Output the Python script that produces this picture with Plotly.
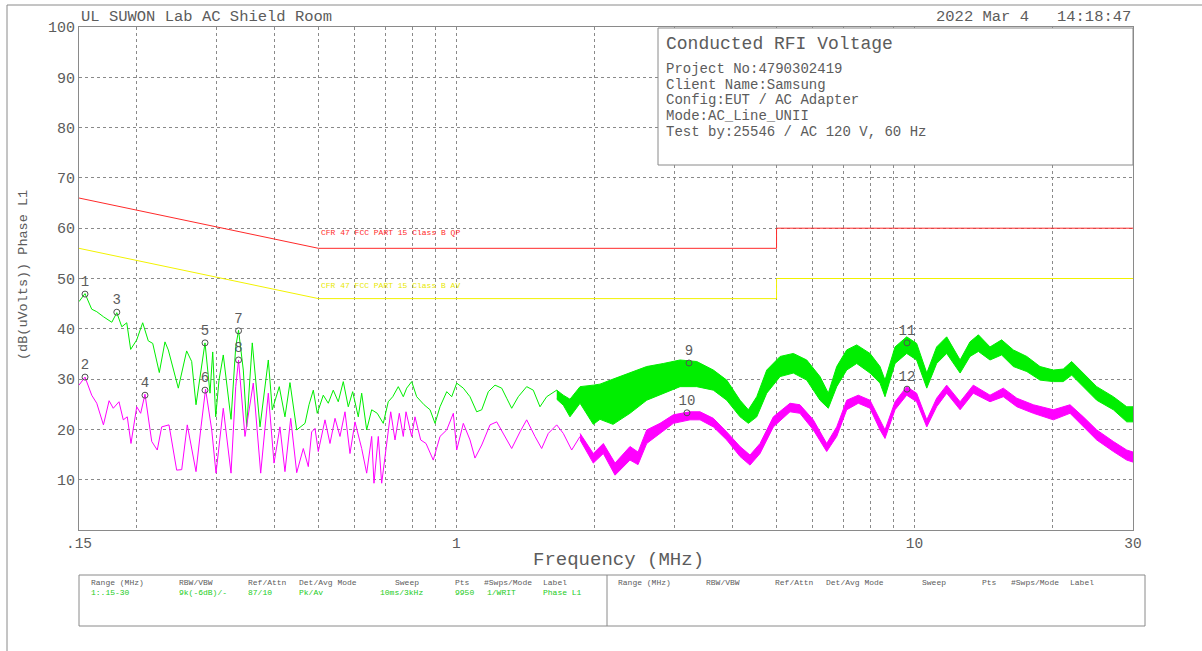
import numpy as np
import plotly.graph_objects as go

# ---------------- measurement data ----------------
# Peak detector (Pk) trace, low-frequency part drawn as a single line
pk_line_f = [0.150, 0.1546, 0.1599, 0.1640, 0.1696, 0.1769, 0.1814, 0.1860, 0.1907, 0.1945,
             0.2005, 0.2066, 0.2125, 0.2173, 0.2246, 0.2311, 0.2350, 0.2471, 0.2577, 0.2643,
             0.2701, 0.2770, 0.2826, 0.2898, 0.2938, 0.2982, 0.3032, 0.3098, 0.3157, 0.3221,
             0.3298, 0.3345, 0.3426, 0.3485, 0.3584, 0.3651, 0.3726, 0.3885, 0.3963, 0.4105,
             0.4224, 0.4332, 0.4481, 0.4672, 0.4767, 0.4871, 0.4969, 0.5121, 0.5252, 0.5385,
             0.5522, 0.5663, 0.5807, 0.5937, 0.6107, 0.6212, 0.6370, 0.6532, 0.6718, 0.6924,
             0.7100, 0.7261, 0.7467, 0.7657, 0.7789, 0.7987, 0.8190, 0.8500, 0.8760, 0.8982,
             0.9209, 0.9526, 0.9768, 1.0016, 1.0354, 1.0708, 1.1074, 1.1358, 1.1741, 1.2142,
             1.2557, 1.2876, 1.3205, 1.3650, 1.4238, 1.4718, 1.5221, 1.5745, 1.6558, 1.7116]
pk_line_db = [45.4, 47.0, 43.9, 43.4, 42.4, 41.3, 43.2, 40.4, 41.2, 35.9,
              37.8, 41.2, 37.6, 37.1, 31.3, 37.4, 35.8, 28.2, 35.6, 33.5,
              24.9, 32.1, 37.2, 27.2, 35.4, 22.5, 29.8, 34.8, 28.8, 22.0,
              36.4, 39.7, 31.8, 20.5, 37.2, 28.8, 20.5, 33.8, 23.9, 28.5,
              22.5, 29.3, 19.9, 21.2, 24.9, 27.8, 23.2, 26.8, 25.2, 27.8,
              25.5, 29.5, 24.5, 27.5, 22.5, 27.2, 19.9, 23.9, 23.2, 21.2,
              25.5, 26.5, 28.5, 26.5, 28.2, 29.5, 26.5, 24.9, 23.9, 21.2,
              24.5, 27.5, 26.5, 29.2, 28.2, 26.5, 23.5, 23.9, 27.5, 28.8,
              28.2, 26.2, 24.2, 26.5, 28.5, 27.8, 24.5, 26.5, 27.8, 25.8]

# Peak trace above ~1.6 MHz: noisy band, upper / lower envelope
pk_band_f = [1.656, 1.712, 1.77, 1.862, 1.99, 2.058, 2.198, 2.393, 2.603, 2.829,
             3.078, 3.347, 3.639, 3.892, 4.162, 4.339, 4.526, 4.759, 5.089, 5.440,
             5.818, 6.220, 6.485, 6.766, 7.114, 7.480, 7.998, 8.410, 8.624, 9.070,
             9.618, 10.11, 10.64, 11.18, 11.76, 12.58, 13.22, 13.79, 14.62, 15.50,
             16.44, 17.59, 18.80, 20.10, 21.13, 22.04, 23.37, 25.00, 27.18, 29.07, 30.0]
pk_band_hi = [27.8, 26.8, 26.0, 28.5, 28.8, 29.0, 30.0, 31.2, 32.5, 33.1,
              33.8, 33.5, 31.8, 29.8, 25.8, 23.9, 26.5, 31.8, 34.5, 35.1,
              33.8, 30.5, 27.2, 32.5, 35.8, 36.8, 35.1, 32.5, 29.8, 36.4,
              38.4, 37.1, 31.2, 36.4, 38.4, 33.8, 37.4, 38.8, 36.4, 37.8,
              35.8, 34.5, 32.5, 31.8, 32.0, 33.5, 31.2, 28.5, 26.5, 24.5, 24.5]
pk_band_lo = [26.0, 24.8, 22.5, 25.2, 21.0, 22.0, 21.0, 23.2, 25.8, 27.2,
              28.5, 28.5, 27.8, 25.8, 22.5, 21.2, 22.5, 27.2, 30.5, 31.2,
              29.8, 25.8, 24.2, 28.5, 31.8, 33.1, 31.2, 29.2, 26.5, 33.1,
              35.1, 33.8, 28.2, 33.1, 35.1, 31.2, 34.5, 35.5, 33.8, 34.8,
              32.5, 31.5, 29.8, 29.5, 29.5, 30.8, 28.5, 25.8, 23.9, 21.5, 21.5]

# Average detector (Av) trace, low-frequency part
av_line_f = [0.150, 0.1546, 0.1599, 0.1640, 0.1696, 0.1745, 0.1782, 0.1834, 0.1874, 0.1912,
             0.1948, 0.2005, 0.2045, 0.2090, 0.2162, 0.2223, 0.2273, 0.2358, 0.2451, 0.2514,
             0.2585, 0.2701, 0.2770, 0.2834, 0.2923, 0.2987, 0.3098, 0.3221, 0.3298, 0.3345,
             0.3455, 0.3602, 0.3739, 0.3885, 0.3998, 0.4119, 0.4224, 0.4348, 0.4481, 0.4632,
             0.4750, 0.4831, 0.4913, 0.4994, 0.5166, 0.5297, 0.5433, 0.5570, 0.5712, 0.5857,
             0.6007, 0.6212, 0.6370, 0.6532, 0.6608, 0.6753, 0.6869, 0.7066, 0.7188, 0.7345,
             0.7505, 0.7657, 0.7762, 0.7987, 0.8120, 0.8358, 0.8584, 0.8903, 0.9209, 0.9526,
             0.9847, 1.0016, 1.0354, 1.0708, 1.0979, 1.1358, 1.1842, 1.2246, 1.2658, 1.3205,
             1.3767, 1.4238, 1.4844, 1.5352, 1.5873, 1.6558, 1.7116, 1.7852, 1.862]
av_line_db = [28.8, 30.4, 26.8, 25.2, 20.9, 25.7, 24.2, 25.5, 21.9, 22.5,
              17.2, 24.5, 23.2, 27.0, 17.6, 15.9, 20.5, 20.9, 11.9, 12.0,
              20.9, 11.6, 20.5, 28.0, 19.9, 11.3, 24.2, 11.3, 28.5, 33.8,
              18.6, 29.2, 11.3, 27.2, 13.3, 20.5, 11.6, 22.2, 11.4, 16.2,
              12.6, 19.5, 20.2, 15.6, 21.9, 17.2, 22.2, 18.6, 23.5, 15.2,
              21.5, 16.2, 11.3, 18.6, 9.3, 18.6, 9.3, 18.6, 23.5, 17.9,
              23.2, 18.6, 23.5, 18.6, 22.5, 17.9, 17.2, 13.9, 18.6, 19.9,
              23.2, 15.9, 21.2, 17.9, 14.3, 16.9, 20.9, 21.5, 19.2, 16.2,
              19.5, 21.9, 18.6, 16.2, 19.2, 20.9, 19.2, 15.9, 18.6]

# Average trace above ~1.86 MHz: upper / lower envelope
av_band_f = [1.862, 1.990, 2.093, 2.220, 2.393, 2.492, 2.603, 2.783, 2.976, 3.236,
             3.403, 3.639, 3.892, 4.162, 4.375, 4.601, 4.920, 5.350, 5.623, 6.014,
             6.433, 6.766, 7.114, 7.541, 7.998, 8.410, 8.624, 9.070, 9.618, 10.11,
             10.64, 11.18, 11.76, 12.58, 13.44, 14.62, 15.63, 16.73, 18.18, 20.10,
             21.86, 23.37, 25.00, 27.18, 29.07, 30.0]
av_band_hi = [19.2, 15.2, 17.2, 13.3, 16.6, 15.5, 19.9, 21.2, 22.9, 23.5,
              23.5, 22.2, 19.5, 16.6, 14.9, 17.2, 22.5, 25.2, 24.9, 21.9,
              17.2, 20.5, 25.8, 26.8, 25.8, 21.9, 19.9, 25.5, 28.5, 27.2,
              21.9, 26.2, 28.8, 25.5, 28.8, 26.8, 28.2, 26.2, 24.9, 23.9,
              24.9, 22.5, 19.9, 17.6, 15.9, 15.5]
av_band_lo = [17.9, 13.3, 15.2, 10.9, 13.9, 13.0, 17.2, 19.2, 21.2, 21.9,
              21.9, 20.5, 17.9, 14.6, 12.9, 15.2, 20.5, 23.5, 23.2, 19.9,
              15.6, 18.6, 23.9, 25.2, 24.2, 19.9, 18.2, 23.9, 26.8, 25.5,
              20.5, 24.5, 27.2, 23.9, 27.2, 25.5, 26.5, 24.5, 23.2, 21.9,
              23.2, 20.5, 17.9, 15.6, 13.9, 13.5]

# Limit lines (CFR 47 FCC Part 15 Class B)
qp_freq = [0.15, 0.5, 5.0, 5.0, 30.0]
qp_level = [66.0, 56.0, 56.0, 60.0, 60.0]
av_freq = [0.15, 0.5, 5.0, 5.0, 30.0]
av_level = [56.0, 46.0, 46.0, 50.0, 50.0]
qp_name = "CFR 47 FCC PART 15 Class B QP"
av_name = "CFR 47 FCC PART 15 Class B AV"

# Markers
mk_freq = [0.1546, 0.1546, 0.1814, 0.2090, 0.2826, 0.2826, 0.3345, 0.3345, 3.220, 3.187, 9.634, 9.634]
mk_level = [46.9, 30.4, 43.3, 26.8, 37.2, 27.8, 39.6, 33.8, 33.2, 23.3, 37.2, 28.0]
mk_label = [str(i) for i in range(1, 13)]

# Axis ticks
x_tickvals = [0.15, 0.2, 0.3, 0.4, 0.5, 0.6, 0.7, 0.8, 0.9, 1, 2, 3, 4, 5, 6, 7, 8, 9, 10, 20, 30]
x_ticklabels = {0.15: ".15", 1: "1", 10: "10", 30: "30"}
y_tickvals = [10, 20, 30, 40, 50, 60, 70, 80, 90, 100]

# Header / info texts
title_left = "UL SUWON Lab AC Shield Room"
title_right = "2022 Mar 4\u00a0\u00a0\u00a014:18:47"
info_title = "Conducted RFI Voltage"
info_lines = ["Project No:4790302419", "Client Name:Samsung", "Config:EUT / AC Adapter",
              "Mode:AC_Line_UNII", "Test by:25546 / AC 120 V, 60 Hz"]
x_title = "Frequency (MHz)"
y_title = "(dB(uVolts)) Phase L1"

table_headers = ["Range (MHz)", "RBW/VBW", "Ref/Attn", "Det/Avg Mode", "Sweep", "Pts", "#Swps/Mode", "Label"]
table_values = ["1:.15-30", "9k(-6dB)/-", "87/10", "Pk/Av", "10ms/3kHz", "9950", "1/WRIT", "Phase L1"]

# ---------------- layout geometry (pixels) ----------------
W, H = 1202, 651
PL, PR, PT, PB = 79, 1133, 27, 530


def px(x):
    return (x - PL) / (PR - PL)


def py(y):
    return (PB - y) / (PB - PT)


FONT = "Liberation Mono"
TXT = "#5c5c5c"
FRAME = "#8a8a8a"
GREEN = "#00ee00"
MAGENTA = "#ff00ff"

fig = go.Figure()

fig.add_trace(go.Scatter(x=qp_freq, y=qp_level, mode="lines",
                         line=dict(color="#ff2a2a", width=1), hoverinfo="skip"))
fig.add_trace(go.Scatter(x=av_freq, y=av_level, mode="lines",
                         line=dict(color="#f2f200", width=1), hoverinfo="skip"))

# peak trace
fig.add_trace(go.Scatter(x=pk_line_f, y=pk_line_db, mode="lines",
                         line=dict(color=GREEN, width=1)))
fig.add_trace(go.Scatter(x=pk_band_f + pk_band_f[::-1], y=pk_band_hi + pk_band_lo[::-1],
                         mode="lines", fill="toself", fillcolor=GREEN,
                         line=dict(color=GREEN, width=1)))

# average trace
fig.add_trace(go.Scatter(x=av_line_f, y=av_line_db, mode="lines",
                         line=dict(color=MAGENTA, width=1)))
fig.add_trace(go.Scatter(x=av_band_f + av_band_f[::-1], y=av_band_hi + av_band_lo[::-1],
                         mode="lines", fill="toself", fillcolor=MAGENTA,
                         line=dict(color=MAGENTA, width=1)))

# markers
fig.add_trace(go.Scatter(x=mk_freq, y=mk_level, mode="markers+text", text=mk_label,
                         textposition="top center",
                         textfont=dict(family=FONT, size=14, color=TXT),
                         marker=dict(symbol="circle-open", size=6, color="#505050",
                                     line=dict(width=1, color="#505050"))))

ann = []


def add_text(text, x, y, size, color=TXT, xanchor="left", yanchor="middle", angle=0):
    ann.append(dict(text=text, x=px(x), y=py(y), xref="paper", yref="paper",
                    xanchor=xanchor, yanchor=yanchor, showarrow=False, textangle=angle,
                    font=dict(family=FONT, size=size, color=color)))


add_text(title_left, 79, 17, 15.5)
add_text(title_right, 1133, 17, 15.5, xanchor="right")
add_text(info_title, 664, 44, 18)
for i, line in enumerate(info_lines):
    add_text(line, 664, 69 + i * 15.7, 14)
add_text(qp_name, 319, 232, 8, color="#ff2a2a")
add_text(av_name, 319, 285, 8, color="#e8e800")
add_text(x_title, 618, 560, 19, xanchor="center")
add_text(y_title, 23, 275, 13.5, xanchor="center", angle=-90)

left_hdr_x = [89, 177, 246, 297, 393, 453, 482, 541]
left_val_x = [89, 177, 246, 297, 378, 453, 485, 541]
for hx, vx, h, v in zip(left_hdr_x, left_val_x, table_headers, table_values):
    add_text(h, hx, 582.5, 8)
    add_text(v, vx, 592.5, 8, color="#22cc22")
    add_text(h, hx + 526.5, 582.5, 8)

fig.update_layout(
    width=W, height=H, autosize=False,
    margin=dict(l=PL, r=W - PR, t=PT, b=H - PB, pad=0),
    paper_bgcolor="white", plot_bgcolor="white",
    showlegend=False,
    annotations=ann,
    xaxis=dict(type="log", range=[np.log10(0.15), np.log10(30)],
               tickvals=x_tickvals,
               ticktext=[x_ticklabels.get(v, "") for v in x_tickvals],
               showgrid=True, gridcolor=FRAME, griddash="3px,3px", gridwidth=1,
               showline=True, mirror=True, linecolor=FRAME, linewidth=1,
               ticks="", zeroline=False,
               tickfont=dict(family=FONT, size=14.5, color=TXT)),
    yaxis=dict(range=[0, 100], tickvals=y_tickvals,
               ticktext=[str(v) for v in y_tickvals],
               showgrid=True, gridcolor=FRAME, griddash="3px,3px", gridwidth=1,
               showline=True, mirror=True, linecolor=FRAME, linewidth=1,
               ticks="", zeroline=False,
               tickfont=dict(family=FONT, size=15, color=TXT)),
    shapes=[
        # page frame
        dict(type="line", xref="paper", yref="paper", x0=px(7), x1=px(7), y0=py(H), y1=py(5),
             line=dict(color=FRAME, width=1)),
        dict(type="line", xref="paper", yref="paper", x0=px(7), x1=px(W), y0=py(5), y1=py(5),
             line=dict(color=FRAME, width=1)),
        # info box
        dict(type="rect", xref="paper", yref="paper", x0=px(658), x1=px(1133), y0=py(165), y1=py(28),
             fillcolor="white", line=dict(color=FRAME, width=1), layer="above"),
        # settings table
        dict(type="rect", xref="paper", yref="paper", x0=px(79), x1=px(1145), y0=py(626), y1=py(575),
             line=dict(color=FRAME, width=1)),
        dict(type="line", xref="paper", yref="paper", x0=px(607), x1=px(607), y0=py(626), y1=py(575),
             line=dict(color=FRAME, width=1)),
    ],
)

fig.write_html("out.html")
